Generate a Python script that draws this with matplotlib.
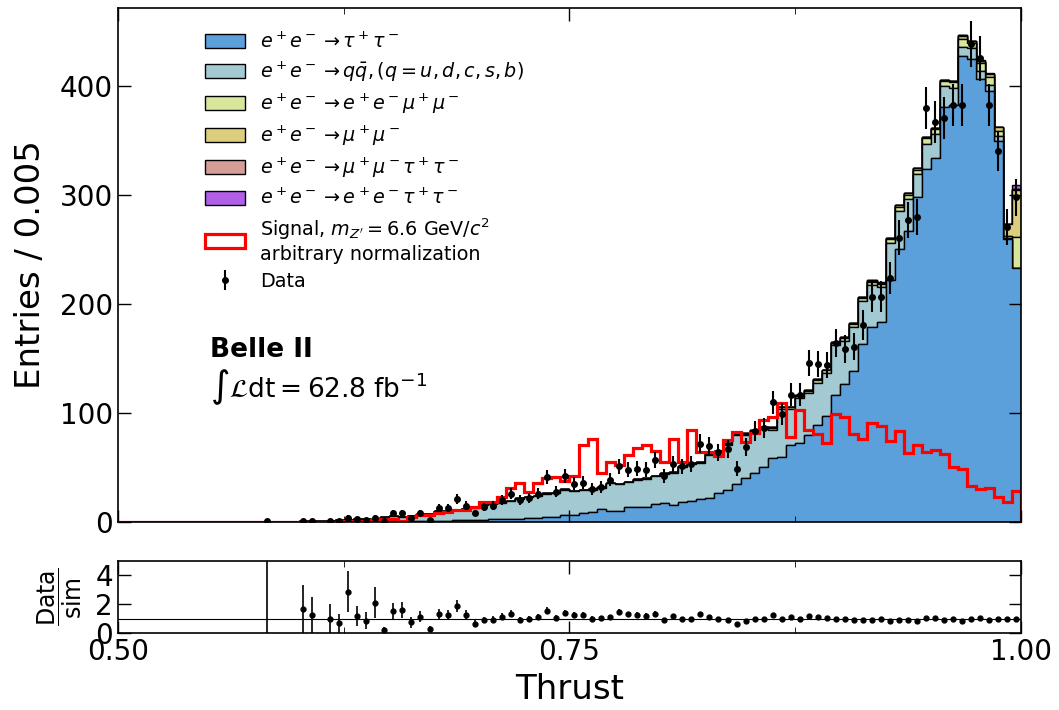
import numpy as np
import matplotlib.pyplot as plt

# 100 bins of thrust, 0.5 - 1.0
edges = np.linspace(0.5, 1.0, 101)
centers = 0.5 * (edges[:-1] + edges[1:])

tau = [0]*20 + [
    0, 0, 0, 0, 0, 0.2, 0.3, 0.3, 0.4, 0.5,
    0.6, 0.7, 0.8, 1.0, 1.0, 1.2, 1.3, 1.5, 1.7, 1.9,
    2.2, 2.4, 2.6, 2.9, 3.2, 3.4, 3.8, 4.3, 4.9, 6.4,
    6.4, 8.5, 9.4, 11.5, 10.0, 10.0, 13.4, 13.4, 13.4, 16.5,
    17.1, 15.6, 18.7, 19.6, 20.8, 21.7, 26.3, 29.4, 35.0, 40.1,
    44.6, 50.2, 58.4, 59.3, 70.6, 72.2, 79.8, 88.9, 97.5, 117.0,
    127, 139, 163, 179, 184, 222, 251, 267, 298, 324,
    334, 381, 383, 428, 425, 407, 396, 350, 260, 233]

total = [0]*10 + [
    0, 0, 0, 0, 0, 0, 0.05, 0, 0, 0,
    0.6, 0.8, 0.9, 1.0, 1.5, 1.4, 2.5, 2.4, 1.9, 4.5,
    5.2, 5.0, 5.5, 7.0, 7.0, 10.0, 10.5, 11.3, 11.8, 12.5,
    15.6, 16.5, 17.7, 19.3, 21.7, 23.2, 23.9, 26.3, 27.0, 30.0,
    28.5, 29.4, 30.0, 31.8, 36.0, 34.8, 36.9, 39.1, 40.0, 42.5,
    45.4, 46.3, 51.4, 54.4, 55.3, 63.0, 65.4, 72.2, 80.7, 81.3,
    84.4, 87.4, 87.0, 105.8, 105.8, 116.5, 121.0, 131.0, 140.0, 165.0,
    170, 183, 207, 222, 220, 261, 291, 302, 325, 354,
    362, 406, 405, 447, 442, 424, 412, 363, 274, 309]

eemumu = [0]*40 + [0.3]*20 + [0.8]*10 + [
    1.5, 1.5, 2.0, 2.0, 2.0, 2.5, 2.5, 2.5, 2.5, 2.5,
    2.5, 2.5, 3.0, 3.0, 3.0, 3.7, 4.0, 3.7, 3.7, 5.8,
    4.0, 4.6, 5.0, 7.6, 4.6, 7.6, 7.6, 4.6, 2.0, 29.0]

mumu = [0]*60 + [0.3]*20 + [
    1, 1, 1, 1, 1, 1, 1, 1, 1, 1,
    1, 1, 1, 3, 2, 2, 3, 4, 10.7, 43.0]

mumutautau = [0]*70 + [0.1]*29 + [0.5]
eetautau = [0]*80 + [0.2]*19 + [4.0]

data = [0]*10 + [
    0, 0, 0, 0, 0, 0, 1, 0, 0, 0,
    1, 1, 0, 1, 1, 4, 3, 2, 4, 1,
    8, 8, 4, 8, 2, 13, 13, 21, 15, 8,
    14, 15, 20, 26, 20, 22, 26, 41, 28, 42,
    35, 36, 30, 32, 39, 51, 48, 49, 48, 57,
    42, 53, 51, 53, 72, 70, 64, 67, 49, 69,
    84, 86, 110, 99, 117, 117, 146, 145, 144, 164,
    159, 161, 181, 207, 207, 224, 261, 277, 280, 380,
    367, 371, 383, 383, 439, 426, 383, 341, 271, 298]

signal = [0]*25 + [
    0.8, 1.0, 1.2, 1.5, 2.5,
    3.0, 1.2, 4.3, 6.0, 6.0, 8.0, 9.5, 11.0, 11.0, 14.0,
    18.6, 18.6, 23.2, 30.9, 36.0, 27.8, 35.5, 40.7, 41.6, 37.9,
    42.5, 70.6, 76.1, 44.6, 54.7, 52.0, 61.4, 68.4, 70.6, 65.4,
    55.3, 75.8, 55.3, 84.4, 63.9, 63.9, 61.0, 75.2, 82.9, 73.7,
    82.0, 93.6, 96.0, 108.9, 78.3, 102.7, 84.4, 80.7, 72.8, 99.0,
    96, 80.4, 76, 91, 88, 74, 84, 63.6, 70.6, 64.5,
    66, 62.4, 50.8, 48.3, 33, 30, 30.9, 23.2, 18.6, 28.4]

tau = np.array(tau, dtype=float)
total = np.array(total, dtype=float)
eemumu = np.array(eemumu, dtype=float)
mumu = np.array(mumu, dtype=float)
mumutautau = np.array(mumutautau, dtype=float)
eetautau = np.array(eetautau, dtype=float)
qq = np.clip(total - tau - eemumu - mumu - mumutautau - eetautau, 0, None)
data = np.array(data, dtype=float)
signal = np.array(signal, dtype=float)

labels = [r'$e^+e^- \rightarrow \tau^+\tau^-$',
          r'$e^+e^- \rightarrow q\bar{q}, (q = u, d, c, s, b)$',
          r'$e^+e^- \rightarrow e^+e^-\mu^+\mu^-$',
          r'$e^+e^- \rightarrow \mu^+\mu^-$',
          r'$e^+e^- \rightarrow \mu^+\mu^-\tau^+\tau^-$',
          r'$e^+e^- \rightarrow e^+e^-\tau^+\tau^-$']
colors = ['#5b9fdb', '#a3cad3', '#d6e69b', '#dcce7c', '#d69c98', '#b25fe8']

fig = plt.figure(figsize=(10.59, 7.10), dpi=100)
ax = fig.add_axes([0.1114, 0.2648, 0.8527, 0.7239])
rax = fig.add_axes([0.1114, 0.1085, 0.8527, 0.1014], sharex=ax)

comps = [tau, qq, eemumu, mumu, mumutautau, eetautau]
ax.hist([centers]*6, bins=edges, weights=comps, stacked=True,
        histtype='stepfilled', color=colors, edgecolor='black',
        linewidth=1.0, label=labels)
mc = np.sum(comps, axis=0)
ax.hist(centers, bins=edges, weights=signal, histtype='step', color='red',
        linewidth=2.3,
        label='Signal, $m_{Z^\\prime} = 6.6$ GeV/$c^2$\narbitrary normalization')

m = data > 0
ax.errorbar(centers[m], data[m], yerr=np.sqrt(data[m]), fmt='o', color='black',
            ms=4, elinewidth=1.5, capsize=0, label='Data')

ax.set_xlim(0.5, 1.0)
ax.set_ylim(0, 472)
ax.set_ylabel('Entries / 0.005', fontsize=24.5, labelpad=9)
ax.set_yticks([0, 100, 200, 300, 400])
ax.set_xticks([0.5, 0.75, 1.0])
ax.set_xticks([0.625, 0.875], minor=True)
ax.tick_params(axis='both', which='major', direction='in', length=9, width=1,
               labelsize=20, top=True, right=True)
ax.tick_params(axis='both', which='minor', direction='in', length=4,
               top=True, right=True)
ax.tick_params(axis='x', labelbottom=False)
for s in ax.spines.values():
    s.set_linewidth(1.2)

# stacked hist hands its patches back top-first: put tau first again
h, l = ax.get_legend_handles_labels()
order = [5, 4, 3, 2, 1, 0, 6, 7]
ax.legend([h[i] for i in order], [l[i] for i in order],
          loc='upper left', bbox_to_anchor=(0.077, 0.988), frameon=False,
          fontsize=13.8, labelspacing=0.42, handlelength=2.1, handleheight=0.75)

ax.text(0.102, 0.335, 'Belle II', transform=ax.transAxes, fontsize=19,
        fontweight='bold', va='center')
ax.text(0.102, 0.262, r'$\int\mathcal{L}\mathrm{dt} = 62.8\ \mathrm{fb}^{-1}$',
        transform=ax.transAxes, fontsize=19, va='center')

# ratio panel
with np.errstate(divide='ignore', invalid='ignore'):
    ratio = np.where(mc > 0, data / mc, np.nan)
    rerr = np.where(mc > 0, np.sqrt(data) / mc, np.nan)
rax.axhline(1, color='black', linewidth=0.8)
rax.errorbar(centers[m], ratio[m], yerr=rerr[m], fmt='o', color='black',
             ms=3.5, elinewidth=1.2, capsize=0)
rax.set_ylim(0, 5)
rax.set_yticks([0, 2, 4])
rax.set_xticks([0.5, 0.75, 1.0])
rax.set_xticks([0.625, 0.875], minor=True)
rax.set_xticklabels(['0.50', '0.75', '1.00'])
rax.tick_params(axis='both', which='major', direction='in', length=9, width=1,
                labelsize=20, top=True, right=True)
rax.tick_params(axis='both', which='minor', direction='in', length=4,
                top=True, right=True)
rax.set_xlabel('Thrust', fontsize=24.5, labelpad=5)
rax.set_ylabel(r'$\dfrac{\mathrm{Data}}{\mathrm{sim}}$', fontsize=17, labelpad=8)
for s in rax.spines.values():
    s.set_linewidth(1.2)

fig.savefig('out.png', dpi=100)
